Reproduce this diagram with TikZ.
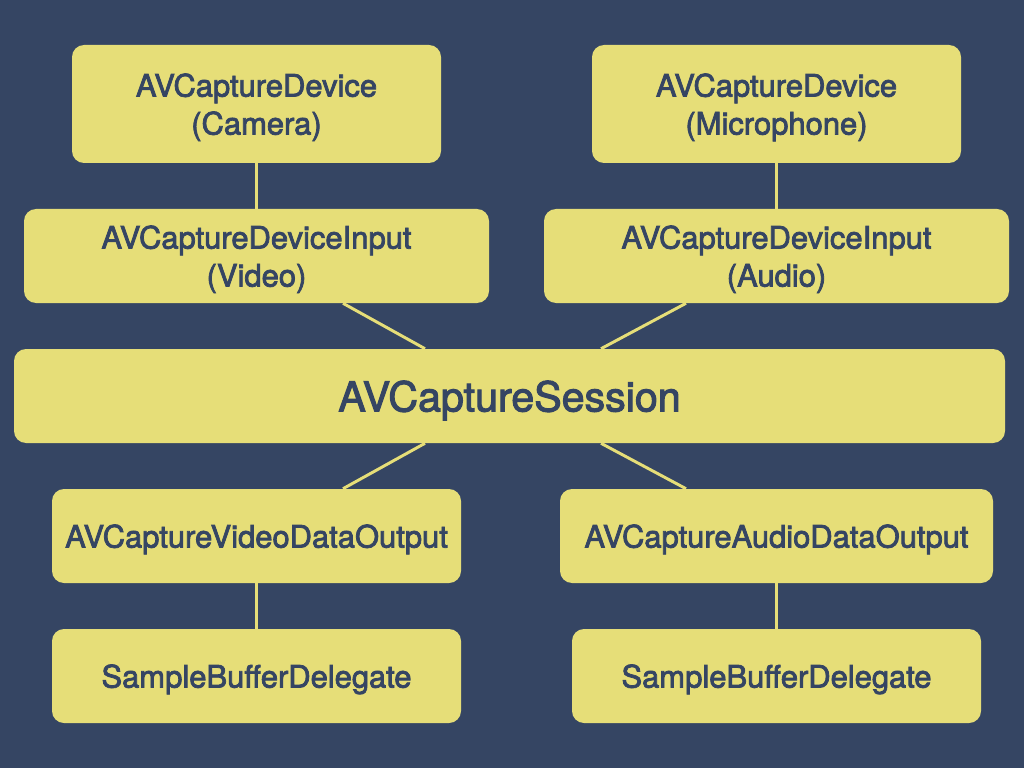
\documentclass[tikz,border=0pt]{standalone}
\usepackage{fontspec}
\setmainfont{TeX Gyre Heros}[FakeBold=2.5]
\definecolor{navy}{HTML}{354563}
\definecolor{sand}{HTML}{E6DE78}
\tikzset{
	block/.style={draw=none, fill=sand, rectangle, rounded corners=0.3cm, minimum height=2.35cm, inner sep=0pt, text depth=0pt, align=center, text=navy, font=\fontsize{22}{27}\selectfont},
	link/.style={draw=sand, line width=2.1pt}
}
\begin{document}
\begin{tikzpicture}
		
		\fill[navy] (0,0) rectangle (25.6,-19.2);
		\useasboundingbox (0,0) rectangle (25.6,-19.2);
		
		%Blocks
		\node (Camera) at (6.4125,-2.6) [block, minimum width=9.225cm, minimum height=2.95cm]{AVCaptureDevice\\(Camera)};
		\node (Microphone) at (19.4125,-2.6) [block, minimum width=9.225cm, minimum height=2.95cm]{AVCaptureDevice\\(Microphone)};
		\node (VideoInput) at (6.4125,-6.4) [block, minimum width=11.625cm]{AVCaptureDeviceInput\\(Video)};
		\node (AudioInput) at (19.4125,-6.4) [block, minimum width=11.625cm]{AVCaptureDeviceInput\\(Audio)};
		\node (Session) at (12.7375,-9.9) [block, minimum width=24.775cm, font=\fontsize{29.3}{35}\selectfont]{AVCaptureSession};
		\node (VideoOutput) at (6.4125,-13.4) [block, minimum width=10.225cm]{AVCaptureVideoDataOutput};
		\node (AudioOutput) at (19.4125,-13.4) [block, minimum width=10.825cm]{AVCaptureAudioDataOutput};
		\node (VideoDelegate) at (6.4125,-16.9) [block, minimum width=10.225cm]{SampleBufferDelegate};
		\node (AudioDelegate) at (19.4125,-16.9) [block, minimum width=10.225cm]{SampleBufferDelegate};
		
		%Links
		\draw[link] (Camera) -- (VideoInput);
		\draw[link] (Microphone) -- (AudioInput);
		\draw[link] ([xshift=2.1625cm]VideoInput.south) -- ([xshift=-2.1125cm]Session.north);
		\draw[link] ([xshift=-2.2625cm]AudioInput.south) -- ([xshift=2.2875cm]Session.north);
		\draw[link] ([xshift=-2.1125cm]Session.south) -- ([xshift=2.1625cm]VideoOutput.north);
		\draw[link] ([xshift=2.2875cm]Session.south) -- ([xshift=-2.2625cm]AudioOutput.north);
		\draw[link] (VideoOutput) -- (VideoDelegate);
		\draw[link] (AudioOutput) -- (AudioDelegate);
		
		\end{tikzpicture}
\end{document}
